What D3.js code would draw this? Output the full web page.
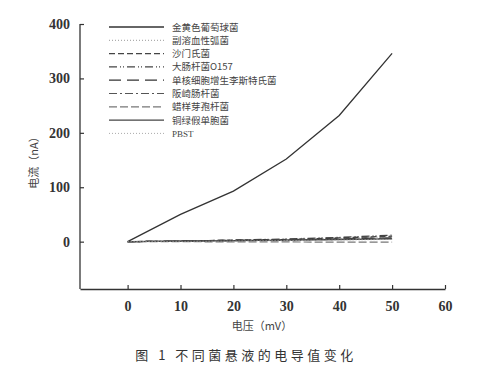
<!DOCTYPE html>
<html>
<head>
<meta charset="utf-8">
<script src="https://cdn.jsdelivr.net/npm/d3@7"></script>
<style>
  body { margin: 0; background: #fff; }
  svg { display: block; }
</style>
</head>
<body>
<div id="chart"></div>
<script>
// voltage (mV)
var voltages = [0, 10, 20, 30, 40, 50];

// series names (legend order)
var seriesNames = ["金黄色葡萄球菌", "副溶血性弧菌", "沙门氏菌", "大肠杆菌O157",
    "单核细胞增生李斯特氏菌", "阪崎肠杆菌", "蜡样芽孢杆菌", "铜绿假单胞菌", "PBST"];

// current (nA) per series
var sAureus     = [0, 50, 93, 152, 232, 346];
var vParah      = [0, 1, 2, 4, 6, 9];
var salmonella  = [0, 1, 3, 4, 7, 10];
var ecoli       = [0, 1, 3, 5, 8, 12];
var listeria    = [0, 1, 2, 3, 5, 7];
var cronobacter = [0, 1, 2, 3, 4, 6];
var bCereus     = [0, 0, -0.5, -0.5, -1, -1];
var pAerug      = [0, 1, 2, 3, 4, 5];
var pbst        = [0, 0.5, 1, 2, 3, 4];

var seriesValues = [sAureus, vParah, salmonella, ecoli, listeria, cronobacter, bCereus, pAerug, pbst];

var xTicks = [0, 10, 20, 30, 40, 50, 60];
var yTicks = [0, 100, 200, 300, 400];

// line looks for each series
var dashes = ["none", "1,2", "6,3", "8,3,1,2,1,3", "12,6", "8,3,2,3", "8,3", "none", "1,2"];
var strokes = ["#333", "#999", "#444", "#444", "#333", "#555", "#777", "#444", "#aaa"];
var widths = [1.3, 1, 1.3, 1.2, 1.3, 1.2, 1.2, 1.3, 1];

var width = 494, height = 386;
var margin = {left: 80, top: 24, right: 49, bottom: 97};

var svg = d3.select("#chart").append("svg")
    .attr("width", width)
    .attr("height", height);

var x = d3.scaleLinear().domain([-9, 60]).range([margin.left, width - margin.right]);
var y = d3.scaleLinear().domain([-87, 400]).range([height - margin.bottom, margin.top]);

var serif = "'Times New Roman', 'Liberation Serif', 'DejaVu Serif', serif";
var cjk = "'Noto Sans CJK SC', sans-serif";

// axes with inward ticks
var xAxis = svg.append("g")
    .attr("transform", "translate(0," + y(-87) + ")")
    .call(d3.axisBottom(x).tickValues(xTicks).tickSizeInner(-4).tickSizeOuter(0).tickPadding(12));
var yAxis = svg.append("g")
    .attr("transform", "translate(" + x(-9) + ",0)")
    .call(d3.axisLeft(y).tickValues(yTicks).tickSizeInner(-4).tickSizeOuter(0).tickPadding(10));

[xAxis, yAxis].forEach(function(a){
    a.attr("font-family", null);
    a.select(".domain").attr("stroke", "#333").attr("stroke-width", 1.3);
    a.selectAll(".tick line").attr("stroke", "#333").attr("stroke-width", 1.2);
    a.selectAll(".tick text")
        .attr("fill", "#333")
        .attr("font-family", serif)
        .attr("font-size", 14)
        .attr("font-weight", "bold");
});
// extend the y axis line down to x axis
yAxis.select(".domain").attr("d", "M0," + y(400) + "V" + y(-87));

// lines
var line = d3.line()
    .x(function(d, i){ return x(voltages[i]); })
    .y(function(d){ return y(d); });

seriesValues.forEach(function(vals, i){
    svg.append("path")
        .datum(vals)
        .attr("d", line)
        .attr("fill", "none")
        .attr("stroke", strokes[i])
        .attr("stroke-width", widths[i])
        .attr("stroke-dasharray", dashes[i]);
});

// legend
var legend = svg.append("g");
seriesNames.forEach(function(name, i){
    var ly = 27 + i * 13.3;
    legend.append("line")
        .attr("x1", 109).attr("x2", 164)
        .attr("y1", ly).attr("y2", ly)
        .attr("stroke", strokes[i])
        .attr("stroke-width", widths[i])
        .attr("stroke-dasharray", dashes[i]);
    legend.append("text")
        .attr("x", 172)
        .attr("y", ly + 3.5)
        .attr("fill", "#444")
        .attr("font-family", i == 8 ? serif : cjk)
        .attr("font-size", i == 8 ? 9 : 9.5)
        .text(name);
});

// axis titles
svg.append("text")
    .attr("x", 262).attr("y", 330)
    .attr("text-anchor", "middle")
    .attr("fill", "#444")
    .attr("font-family", cjk)
    .attr("font-size", 11)
    .text("电压（mV）");

svg.append("text")
    .attr("transform", "translate(38,160) rotate(-90)")
    .attr("text-anchor", "middle")
    .attr("fill", "#444")
    .attr("font-family", cjk)
    .attr("font-size", 11)
    .text("电流（nA）");

// caption
svg.append("text")
    .attr("x", 246).attr("y", 360)
    .attr("text-anchor", "middle")
    .attr("fill", "#333")
    .attr("font-family", cjk)
    .attr("font-size", 13)
    .attr("letter-spacing", 3.5)
    .text("图 1 不同菌悬液的电导值变化");
</script>
</body>
</html>
